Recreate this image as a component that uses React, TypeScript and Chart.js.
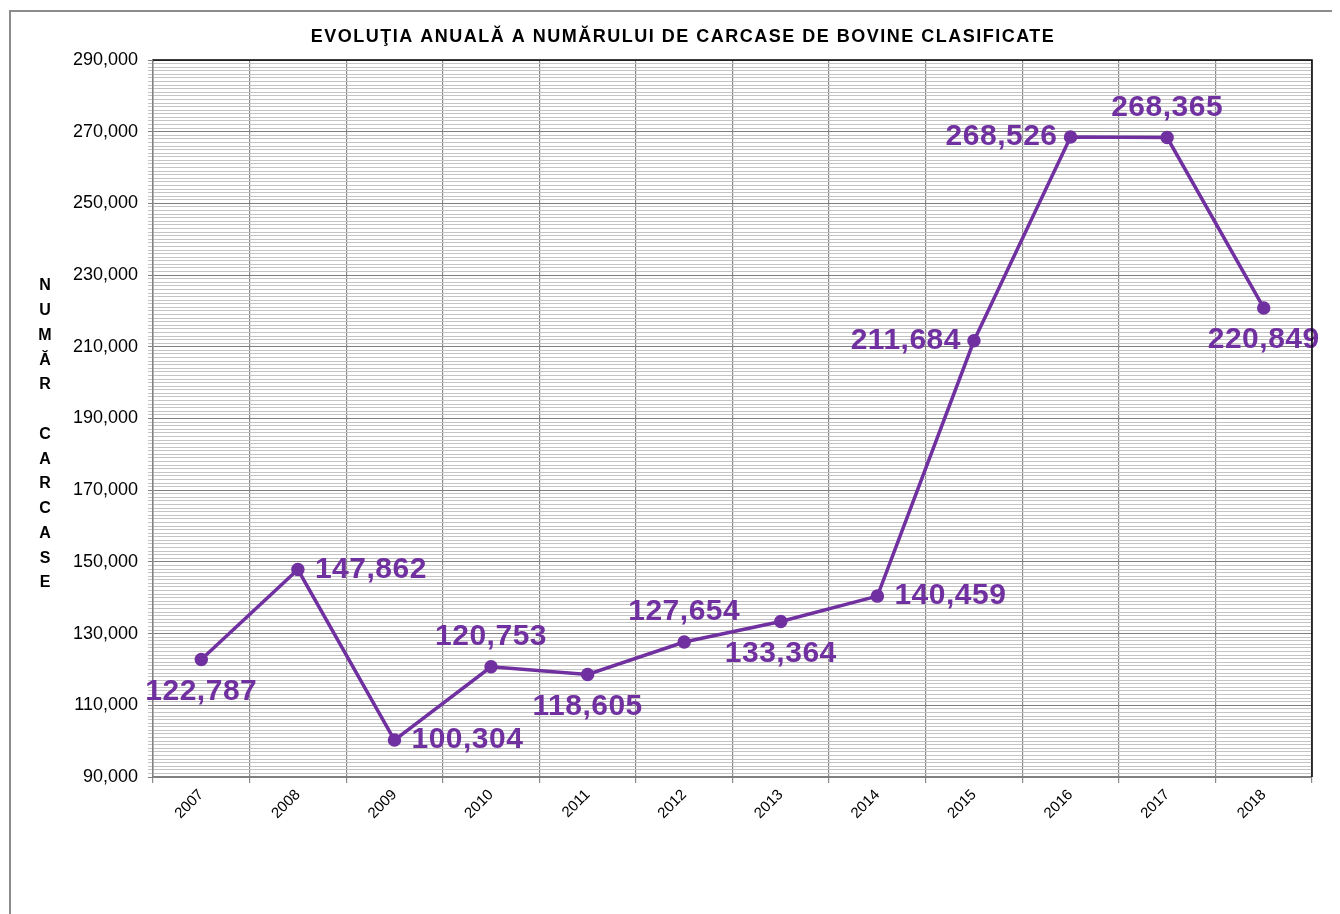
import React, { useEffect, useRef } from "react";
import { Chart, registerables } from "chart.js";

Chart.register(...registerables);

const years = ["2007", "2008", "2009", "2010", "2011", "2012", "2013", "2014", "2015", "2016", "2017", "2018"];
const carcase = [122787, 147862, 100304, 120753, 118605, 127654, 133364, 140459, 211684, 268526, 268365, 220849];
const labelPlacement = ["below", "right", "right", "above", "below", "above", "below", "right", "left", "left", "above", "below"];
const yMin = 90000;
const yMax = 290000;
const yMinorStep = 1000;
const yMajorStep = 20000;
const chartTitle = "EVOLUŢIA ANUALĂ A NUMĂRULUI DE CARCASE DE BOVINE CLASIFICATE";
const yTitleLines = ["N", "U", "M", "Ă", "R", "", "C", "A", "R", "C", "A", "S", "E"];

const FONT = "'Liberation Sans', Arial, sans-serif";
const LINE_COLOR = "#7030A0";
const W = 1332;
const H = 906;

const fmt = (v: number) => Number(v).toLocaleString("en-US");

const decorPlugin = {
  id: "decor",
  beforeDraw(chart: any) {
    const ctx = chart.ctx;
    ctx.save();
    ctx.fillStyle = "#ffffff";
    ctx.fillRect(0, 0, chart.width, chart.height);
    ctx.strokeStyle = "#8c8c8c";
    ctx.lineWidth = 2;
    ctx.strokeRect(2, 3, 1328, 940);
    // title
    ctx.fillStyle = "#000";
    ctx.font = `bold 18px ${FONT}`;
    ctx.letterSpacing = "1.5px";
    ctx.textAlign = "center";
    ctx.textBaseline = "middle";
    ctx.fillText(chartTitle, 675, 29);
    ctx.letterSpacing = "0px";
    // y title stacked
    ctx.font = `bold 16px ${FONT}`;
    yTitleLines.forEach((ch, i) => {
      ctx.fillText(ch, 37, 278 + i * 24.75);
    });
    ctx.restore();
  },
  afterDraw(chart: any) {
    const { ctx, chartArea } = chart;
    ctx.save();
    ctx.strokeStyle = "#000";
    ctx.lineWidth = 1.5;
    ctx.beginPath();
    ctx.moveTo(chartArea.left, chartArea.top);
    ctx.lineTo(chartArea.right, chartArea.top);
    ctx.lineTo(chartArea.right, chartArea.bottom);
    ctx.stroke();
    ctx.restore();
  },
  afterDatasetsDraw(chart: any) {
    const ctx = chart.ctx;
    const meta = chart.getDatasetMeta(0);
    ctx.save();
    ctx.fillStyle = LINE_COLOR;
    ctx.font = `bold 30px ${FONT}`;
    ctx.letterSpacing = "0.5px";
    ctx.textBaseline = "middle";
    meta.data.forEach((pt: any, i: number) => {
      const txt = fmt(carcase[i]);
      const pos = labelPlacement[i];
      let x = pt.x;
      let y = pt.y;
      if (pos === "below") {
        ctx.textAlign = "center";
        y += 32;
      } else if (pos === "above") {
        ctx.textAlign = "center";
        y -= 30;
      } else if (pos === "right") {
        ctx.textAlign = "left";
        x += 17;
      } else {
        ctx.textAlign = "right";
        x -= 13;
      }
      ctx.fillText(txt, x, y);
    });
    ctx.restore();
  },
};

export default function App() {
  const ref = useRef<HTMLCanvasElement | null>(null);
  useEffect(() => {
    if (!ref.current) return;
    const chart = new Chart(ref.current, {
      type: "line",
      data: {
        labels: years,
        datasets: [
          {
            data: carcase,
            borderColor: LINE_COLOR,
            backgroundColor: LINE_COLOR,
            borderWidth: 3.5,
            pointRadius: 5,
            pointBackgroundColor: LINE_COLOR,
            pointBorderColor: LINE_COLOR,
            tension: 0,
          },
        ],
      },
      options: {
        responsive: false,
        animation: false,
        devicePixelRatio: 1,
        layout: { padding: { top: 52, left: 0, right: 28, bottom: 0 } },
        plugins: {
          legend: { display: false },
          title: { display: false },
          tooltip: { enabled: false },
        },
        scales: {
          x: {
            type: "category",
            offset: true,
            afterFit: (s: any) => {
              s.height = 137;
            },
            grid: {
              offset: true,
              color: "#8a8a8a",
              lineWidth: 1.2,
              tickLength: 6,
              drawTicks: true,
            },
            border: { color: "#808080", width: 1.5 },
            ticks: {
              minRotation: 45,
              maxRotation: 45,
              autoSkip: false,
              padding: 3,
              color: "#000",
              font: { family: FONT, size: 15 },
            },
          },
          y: {
            min: yMin,
            max: yMax,
            afterFit: (s: any) => {
              s.width = 145;
            },
            grid: {
              color: (c: any) =>
                c.tick && (c.tick.value - yMin) % yMajorStep === 0 ? "#7f7f7f" : "#c4c4c4",
              lineWidth: 1,
              tickLength: 5,
            },
            border: { color: "#808080", width: 1.5 },
            ticks: {
              stepSize: yMinorStep,
              autoSkip: false,
              padding: 10,
              color: "#000",
              font: { family: FONT, size: 18 },
              callback: (v: any) => ((Number(v) - yMin) % yMajorStep === 0 ? fmt(Number(v)) : ""),
            },
          },
        },
      },
      plugins: [decorPlugin],
    });
    return () => chart.destroy();
  }, []);
  return (
    <canvas
      ref={ref}
      width={W}
      height={H}
      style={{ display: "block", width: W, height: H }}
    />
  );
}
